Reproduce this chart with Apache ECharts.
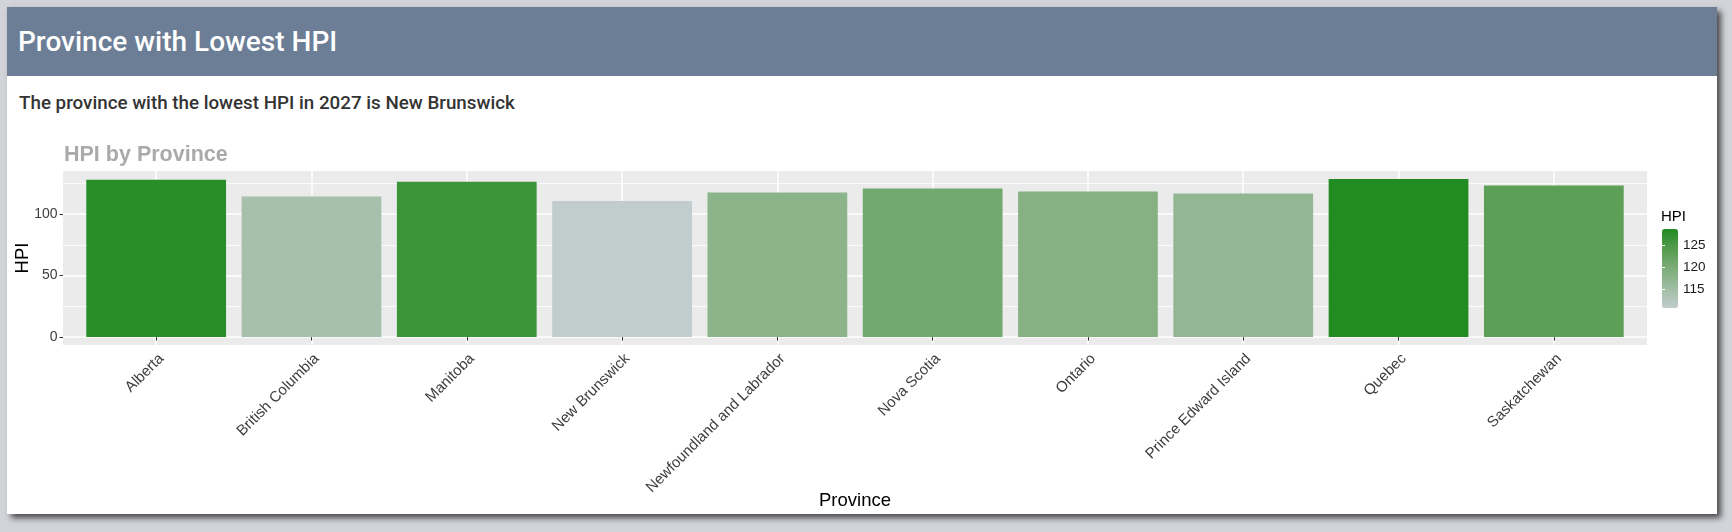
<!DOCTYPE html>
<html>
<head>
<meta charset="utf-8">
<script src="https://cdn.jsdelivr.net/npm/echarts@6/dist/echarts.min.js"></script>
<style>
  html, body { margin:0; padding:0; width:1732px; height:532px; overflow:hidden; background:#d3d4d9; }
  .card { position:absolute; left:7px; top:7px; width:1710px; height:507px; background:#ffffff;
          box-shadow: 4px 4px 6px rgba(0,0,0,0.65); }
  .header { position:absolute; left:0; top:0; width:100%; height:69px; background:#6c7d96; }
  .htitle { position:absolute; left:11px; top:21px; font-family:Roboto, sans-serif; font-weight:500;
            font-size:28px; line-height:28px; color:#ffffff; white-space:nowrap; }
  .sub { position:absolute; left:12px; top:87px; font-family:Roboto, sans-serif; font-weight:500;
         font-size:18.8px; line-height:18.8px; color:#333333; white-space:nowrap; }
  #chart { position:absolute; left:0; top:0; width:1732px; height:532px; }
</style>
</head>
<body>
<div class="card">
  <div class="header"><div class="htitle">Province with Lowest HPI</div></div>
  <div class="sub">The province with the lowest HPI in 2027 is New Brunswick</div>
</div>
<div id="chart"></div>
<script>
const provinces = ['Alberta', 'British Columbia', 'Manitoba', 'New Brunswick', 'Newfoundland and Labrador',
                   'Nova Scotia', 'Ontario', 'Prince Edward Island', 'Quebec', 'Saskatchewan'];
const hpi = [128.1, 114.3, 126.4, 110.7, 117.7, 120.8, 118.5, 116.9, 128.7, 123.3];
const yTicks = [0, 50, 100];
const legendTicks = [115, 120, 125];
const gradientColors = ['#C1CDCD', '#9FBDA2', '#7CAD78', '#559C4F', '#228B22'];

const FONT = "'Liberation Sans', Arial, sans-serif";
const dataMax = Math.max(...hpi);
const dataMin = Math.min(...hpi);
const yMin = -dataMax * 0.05;
const yMax = dataMax * 1.05;

// panel geometry (ggplot-like discrete expansion of 0.6 units each side)
const panelLeft = 63, panelRight = 85, panelTop = 171, panelBottom = 187;
const panelWidth = 1732 - panelLeft - panelRight;
const unit = panelWidth / (provinces.length + 0.2);
const inset = unit * 0.1;

const chart = echarts.init(document.getElementById('chart'), null, {renderer: 'canvas'});
chart.setOption({
  animation: false,
  backgroundColor: 'transparent',
  textStyle: { fontFamily: FONT },
  title: [
    { text: 'HPI by Province', left: 64, top: 144, padding: 0,
      textStyle: { fontFamily: FONT, fontSize: 21.5, fontWeight: 'bold', color: '#AAAAAA' } },
    { text: 'HPI', left: 1661, top: 209, padding: 0,
      textStyle: { fontFamily: FONT, fontSize: 15, fontWeight: 'normal', color: '#000000' } }
  ],
  grid: [
    { left: panelLeft, right: panelRight, top: panelTop, bottom: panelBottom, show: true,
      backgroundColor: '#EBEBEB', borderWidth: 0, containLabel: false, outerBoundsMode: 'none' },
    { left: panelLeft + inset, right: panelRight + inset, top: panelTop, bottom: panelBottom, show: false,
      containLabel: false, outerBoundsMode: 'none' },
    { left: 1662, top: 229, width: 16, height: 79, show: false, containLabel: false, outerBoundsMode: 'none' }
  ],
  xAxis: [
    { gridIndex: 0, type: 'value', show: false, min: 0, max: 1 },
    { gridIndex: 1, type: 'category', data: provinces,
      axisLine: { show: false },
      axisTick: { show: true, alignWithLabel: true, length: 3.5, lineStyle: { color: '#333333', width: 1 } },
      splitLine: { show: true, alignWithLabel: true, lineStyle: { color: '#FFFFFF', width: 1.5 } },
      axisLabel: { rotate: 45, align: 'right', verticalAlign: 'top', margin: 6, interval: 0,
                   fontFamily: FONT, fontSize: 15, color: '#3d3d3d' },
      name: 'Province', nameLocation: 'middle', nameGap: 156, nameMoveOverlap: false,
      nameTextStyle: { fontFamily: FONT, fontSize: 18.5, color: '#000000', verticalAlign: 'middle' } },
    { gridIndex: 2, type: 'value', show: false, min: 0, max: 1 }
  ],
  yAxis: [
    { gridIndex: 0, type: 'value', min: yMin, max: yMax, splitNumber: 3,
      axisLine: { show: false },
      axisTick: { show: true, customValues: yTicks, length: 3.5, lineStyle: { color: '#333333', width: 1 } },
      axisLabel: { customValues: yTicks, margin: 5.5,
                   fontFamily: FONT, fontSize: 14, color: '#3d3d3d' },
      splitLine: { show: true, lineStyle: { color: '#FFFFFF', width: 1.5 } },
      minorTick: { show: false, splitNumber: 2 },
      minorSplitLine: { show: true, lineStyle: { color: '#FFFFFF', width: 0.8 } },
      name: 'HPI', nameLocation: 'middle', nameGap: 40, nameRotate: 90, nameMoveOverlap: false,
      nameTextStyle: { fontFamily: FONT, fontSize: 18.5, color: '#000000', verticalAlign: 'middle' } },
    { gridIndex: 1, type: 'value', min: yMin, max: yMax, show: false },
    { gridIndex: 2, type: 'value', min: dataMin, max: dataMax, position: 'right', z: 10,
      axisLine: { show: false },
      axisTick: { show: true, inside: true, customValues: legendTicks, length: 3,
                  lineStyle: { color: '#FFFFFF', width: 1 } },
      axisLabel: { customValues: legendTicks, margin: 5,
                   fontFamily: FONT, fontSize: 13.5, color: '#1A1A1A' },
      splitLine: { show: false } },
    { gridIndex: 2, type: 'value', min: dataMin, max: dataMax, position: 'left', z: 10,
      axisLine: { show: false },
      axisTick: { show: true, inside: true, customValues: legendTicks, length: 3,
                  lineStyle: { color: '#FFFFFF', width: 1 } },
      axisLabel: { show: false },
      splitLine: { show: false } }
  ],
  visualMap: {
    type: 'continuous', seriesIndex: 0, min: dataMin, max: dataMax,
    left: 1662, top: 229, itemWidth: 16, itemHeight: 79, padding: 0,
    calculable: false, realtime: false, hoverLink: false,
    inRange: { color: gradientColors },
    textStyle: { color: '#000' }
  },
  series: [
    { type: 'bar', xAxisIndex: 1, yAxisIndex: 1, data: hpi, barCategoryGap: '10%',
      silent: true, z: 3 }
  ]
});
</script>
</body>
</html>
